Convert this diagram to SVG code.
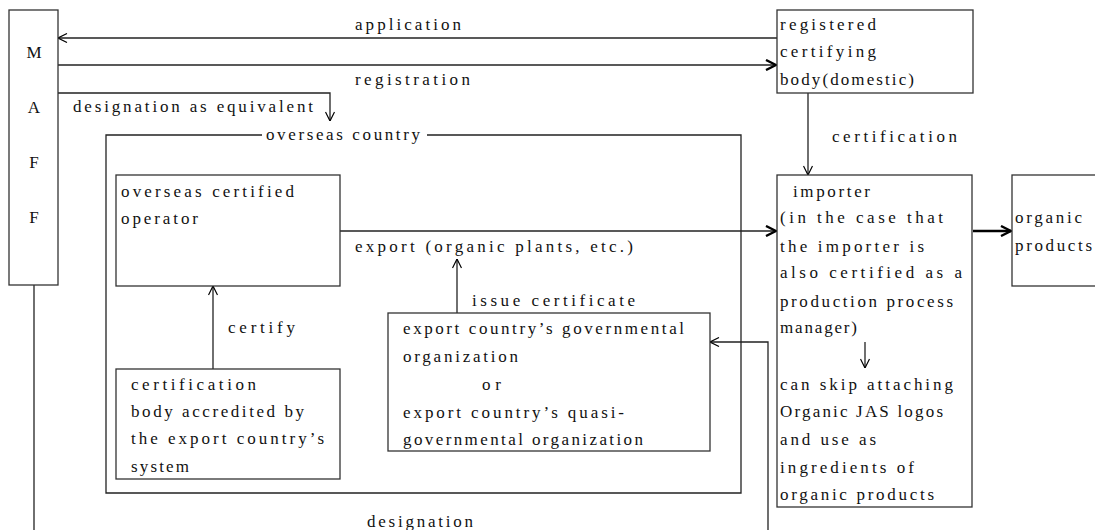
<svg xmlns="http://www.w3.org/2000/svg" width="1095" height="530" viewBox="0 0 1095 530">
<style>
text{font-family:"Liberation Serif","DejaVu Serif",serif;font-size:17px;fill:#111}
.box{fill:#fff;stroke:#333;stroke-width:1.3}
.ln{fill:none;stroke:#222;stroke-width:1.3}
.bl{fill:none;stroke:#000;stroke-width:2.4}
</style>
<defs>
<marker id="open" viewBox="0 0 10 10" refX="10" refY="5" markerWidth="10" markerHeight="10" markerUnits="userSpaceOnUse" orient="auto">
<path d="M1,0.5 L10,5 L1,9.5" fill="none" stroke="#000" stroke-width="1.2"/>
</marker>
<marker id="bold" viewBox="0 0 12 12" refX="11" refY="6" markerWidth="12" markerHeight="12" markerUnits="userSpaceOnUse" orient="auto">
<path d="M1,1 L11,6 L1,11" fill="none" stroke="#000" stroke-width="2.4"/>
</marker>
</defs>
<rect width="1095" height="530" fill="#fff"/>
<g id="connectors">
<line class="ln" x1="777" y1="38" x2="58" y2="38" marker-end="url(#open)"/>
<line class="ln" x1="58" y1="65" x2="776" y2="65" stroke-width="1.5" marker-end="url(#bold)"/>
<polyline class="ln" points="58,93 330,93 330,121" marker-end="url(#open)"/>
<line class="ln" x1="808" y1="93" x2="808" y2="175" marker-end="url(#open)"/>
<line class="ln" x1="340" y1="231" x2="776" y2="231" marker-end="url(#bold)"/>
<line class="bl" x1="973" y1="231" x2="1011" y2="231" marker-end="url(#bold)"/>
<line class="ln" x1="457" y1="313" x2="457" y2="259" marker-end="url(#open)"/>
<line class="ln" x1="213" y1="369" x2="213" y2="286" marker-end="url(#open)"/>
<line class="ln" x1="34" y1="285" x2="34" y2="530"/>
<polyline class="ln" points="768,530 768,342 710,342" marker-end="url(#open)"/>
<text x="355" y="30" textLength="106">application</text>
<text x="355" y="85" textLength="115">registration</text>
<text x="73" y="112" textLength="240">designation as equivalent</text>
<text x="832" y="142" textLength="125">certification</text>
<text x="355" y="252" textLength="278">export (organic plants, etc.)</text>
<text x="472" y="306" textLength="163">issue certificate</text>
<text x="228" y="333" textLength="67">certify</text>
<text x="367" y="527" textLength="106">designation</text>
</g>
<g id="overseas-country">
<polyline class="ln" points="262,135 106,135 106,493 741,493 741,135 427,135"/>
<text x="266" y="140" textLength="154">overseas country</text>
</g>
<g id="maff">
<rect class="box" x="9" y="10" width="49" height="275"/>
<text x="34" y="58" text-anchor="middle">M</text>
<text x="34" y="113" text-anchor="middle">A</text>
<text x="34" y="168" text-anchor="middle">F</text>
<text x="34" y="223" text-anchor="middle">F</text>
</g>
<g id="registered-body">
<rect class="box" x="777" y="10" width="196" height="83"/>
<text x="780" y="30" textLength="96">registered</text>
<text x="780" y="57" textLength="96">certifying</text>
<text x="780" y="85" textLength="134">body(domestic)</text>
</g>
<g id="operator">
<rect class="box" x="116" y="175" width="224" height="111"/>
<text x="121" y="197" textLength="173">overseas certified</text>
<text x="121" y="224" textLength="77">operator</text>
</g>
<g id="cert-body">
<rect class="box" x="116" y="369" width="224" height="110"/>
<text x="131" y="390" textLength="125">certification</text>
<text x="131" y="417" textLength="173">body accredited by</text>
<text x="131" y="444" textLength="193">the export country’s</text>
<text x="131" y="472" textLength="58">system</text>
</g>
<g id="gov-org">
<rect class="box" x="388" y="313" width="322" height="138"/>
<text x="403" y="334" textLength="281">export country’s governmental</text>
<text x="403" y="362" textLength="115">organization</text>
<text x="482" y="390" textLength="19">or</text>
<text x="403" y="418" textLength="221">export country’s quasi-</text>
<text x="403" y="445" textLength="240">governmental organization</text>
</g>
<g id="importer">
<rect class="box" x="777" y="175" width="195" height="332"/>
<text x="793" y="197" textLength="77">importer</text>
<text x="780" y="223" textLength="163">(in the case that</text>
<text x="780" y="252" textLength="144">the importer is</text>
<text x="780" y="278" textLength="182">also certified as a</text>
<text x="780" y="307" textLength="173">production process</text>
<text x="780" y="333" textLength="77">manager)</text>
<line class="ln" x1="865" y1="342" x2="865" y2="368" marker-end="url(#open)"/>
<text x="780" y="390" textLength="173">can skip attaching</text>
<text x="780" y="417" textLength="163">Organic JAS logos</text>
<text x="780" y="445" textLength="96">and use as</text>
<text x="780" y="473" textLength="134">ingredients of</text>
<text x="780" y="500" textLength="154">organic products</text>
</g>
<g id="organic-products">
<rect class="box" x="1012" y="175" width="100" height="111"/>
<text x="1015" y="223" textLength="67">organic</text>
<text x="1015" y="251" textLength="77">products</text>
</g>
</svg>
